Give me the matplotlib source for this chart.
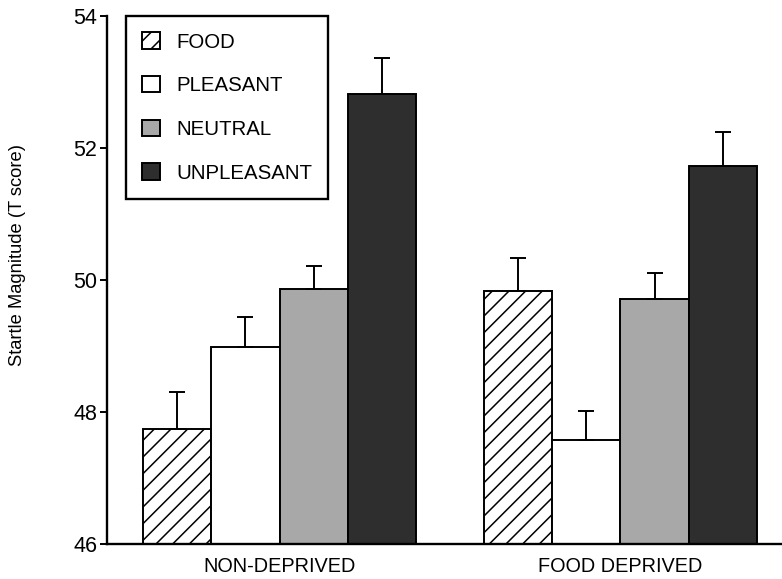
import matplotlib.pyplot as plt
import numpy as np

plt.rcParams['font.family'] = ['Liberation Sans', 'DejaVu Sans']
plt.rcParams['hatch.linewidth'] = 1.1

groups = ['NON-DEPRIVED', 'FOOD DEPRIVED']
conditions = ['FOOD', 'PLEASANT', 'NEUTRAL', 'UNPLEASANT']

# mean startle (T score) and standard error, one list per picture type
food = [47.74, 49.84]
food_err = [0.57, 0.49]
pleasant = [48.98, 47.58]
pleasant_err = [0.46, 0.44]
neutral = [49.86, 49.71]
neutral_err = [0.35, 0.40]
unpleasant = [52.82, 51.72]
unpleasant_err = [0.55, 0.52]

means = [food, pleasant, neutral, unpleasant]
errs = [food_err, pleasant_err, neutral_err, unpleasant_err]
colors = ['white', 'white', '#a8a8a8', '#2e2e2e']
hatches = ['//', None, None, None]

fig = plt.figure(figsize=(7.82, 5.79), dpi=100)
ax = fig.add_axes([107/782, 1 - 544/579, 1 - 107/782, (544 - 16)/579])

x = np.arange(len(groups))
w = 0.2
base = 46
for i in range(4):
    pos = x + (i - 1.5) * w
    vals = np.array(means[i])
    ax.bar(pos, vals - base, w, bottom=base, color=colors[i], hatch=hatches[i],
           edgecolor='black', linewidth=1.4, label=conditions[i], zorder=2)
    ax.errorbar(pos, vals, yerr=[np.zeros(len(vals)), errs[i]], fmt='none',
                ecolor='black', elinewidth=1.4, capsize=5.5, capthick=1.4, zorder=3)

ax.set_ylim(46, 54)
ax.set_xlim(-0.506, 1.474)
ax.set_yticks([46, 48, 50, 52, 54])
ax.set_xticks(x)
ax.set_xticklabels(groups, fontsize=14.3)
ax.tick_params(axis='x', length=0, pad=9)
ax.tick_params(axis='y', labelsize=15.5, length=5, width=1.4, pad=2)

ax.spines['top'].set_visible(False)
ax.spines['right'].set_visible(False)
ax.spines['left'].set_linewidth(1.7)
ax.spines['bottom'].set_linewidth(1.7)

fig.text(18/782, 1 - 255/579, 'Startle Magnitude (T score)', rotation=90,
         ha='center', va='center', fontsize=13.2)

leg = ax.legend(loc='upper left', bbox_to_anchor=(0.028, 1.0), borderaxespad=0,
                fontsize=14.7, fancybox=False, edgecolor='black', framealpha=1,
                handlelength=0.85, handleheight=0.85, handletextpad=0.8,
                labelspacing=1.2, borderpad=0.8)
leg.get_frame().set_linewidth(1.7)

plt.savefig('out.png', dpi=100)
